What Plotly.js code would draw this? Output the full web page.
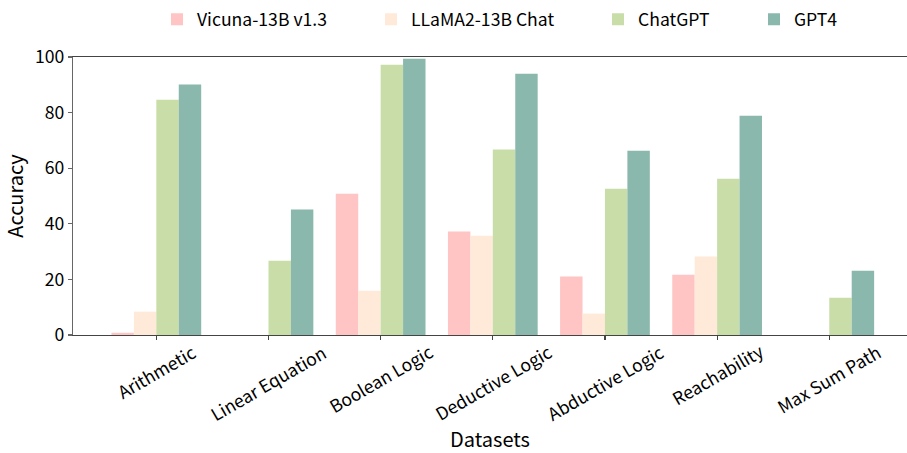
<!DOCTYPE html>
<html>
<head>
<meta charset="utf-8">
<script src="https://cdn.plot.ly/plotly-3.0.1.min.js"></script>
<style>html,body{margin:0;padding:0;overflow:hidden;background:#fff}</style>
</head>
<body>
<div id="chart" style="width:907px;height:453px"></div>
<script>
const categories = ["Arithmetic", "Linear Equation", "Boolean Logic", "Deductive Logic", "Abductive Logic", "Reachability", "Max Sum Path"];
const seriesNames = ["Vicuna-13B v1.3", "LLaMA2-13B Chat", "ChatGPT", "GPT4"];
const vicuna = [0.8, 0, 50.8, 37.2, 21.0, 21.7, 0];
const llama = [8.4, 0, 15.9, 35.7, 7.7, 28.2, 0];
const chatgpt = [84.6, 26.7, 97.2, 66.7, 52.6, 56.2, 13.4];
const gpt4 = [90.1, 45.1, 99.4, 94.0, 66.3, 78.9, 23.1];
const yTicks = [0, 20, 40, 60, 80, 100];

const colors = ["#FFC4C4", "#FFE9D8", "#C8DDA8", "#8AB8AC"];
const values = [vicuna, llama, chatgpt, gpt4];
const legendIds = ["legend", "legend2", "legend3", "legend4"];
const FONT = '"Noto Sans CJK SC", "Noto Sans", sans-serif';
const FS = 17.6, TFS = 20;

const xIdx = categories.map((c, i) => i);
const traces = values.map((v, k) => ({
  type: "bar",
  name: seriesNames[k],
  x: xIdx,
  y: v,
  marker: {color: colors[k], line: {width: 0}},
  legend: legendIds[k],
  hoverinfo: "x+y+name"
}));

const L = 73, W = 834;
const textStarts = [197, 411, 638, 794];
const legendCommon = (px) => ({
  x: (px - 40 - L) / W,
  xanchor: "left",
  y: 1.136,
  yanchor: "middle",
  orientation: "h",
  bgcolor: "rgba(0,0,0,0)",
  borderwidth: 0,
  font: {family: FONT, size: FS, color: "#000"}
});

const annotations = categories.map((c, i) => ({
  x: i, xref: "x",
  y: -0.004, yref: "paper",
  text: c,
  showarrow: false,
  textangle: -30,
  xanchor: "center",
  yanchor: "top",
  font: {family: FONT, size: FS, color: "#000"}
}));

const layout = {
  width: 907, height: 453,
  margin: {l: L, r: 0, t: 57, b: 118, pad: 0},
  paper_bgcolor: "#fff",
  plot_bgcolor: "#fff",
  font: {family: FONT, size: FS, color: "#000"},
  barmode: "group",
  bargap: 0.2,
  bargroupgap: 0,
  showlegend: true,
  legend: legendCommon(textStarts[0]),
  legend2: legendCommon(textStarts[1]),
  legend3: legendCommon(textStarts[2]),
  legend4: legendCommon(textStarts[3]),
  xaxis: {
    range: [-0.743, 6.693],
    tickmode: "array",
    tickvals: xIdx,
    ticktext: categories,
    showticklabels: false,
    ticks: "outside", ticklen: 4, tickwidth: 1.2, tickcolor: "#444",
    showline: true, linecolor: "#444", linewidth: 1.3, mirror: true,
    showgrid: false, zeroline: false,
    title: {text: "Datasets", font: {family: FONT, size: TFS, color: "#000"}, standoff: 93}
  },
  yaxis: {
    range: [0, 100],
    tickmode: "array",
    tickvals: yTicks,
    ticktext: yTicks.map(String),
    ticks: "outside", ticklen: 4, tickwidth: 1.2, tickcolor: "#666",
    showline: true, linecolor: "#666", linewidth: 1.3,
    showgrid: false, zeroline: false,
    tickfont: {family: FONT, size: FS, color: "#000"},
    title: {text: "Accuracy", font: {family: FONT, size: TFS, color: "#000"}, standoff: 8}
  },
  annotations: annotations
};

Plotly.newPlot("chart", traces, layout, {displayModeBar: false, staticPlot: true});
</script>
</body>
</html>
